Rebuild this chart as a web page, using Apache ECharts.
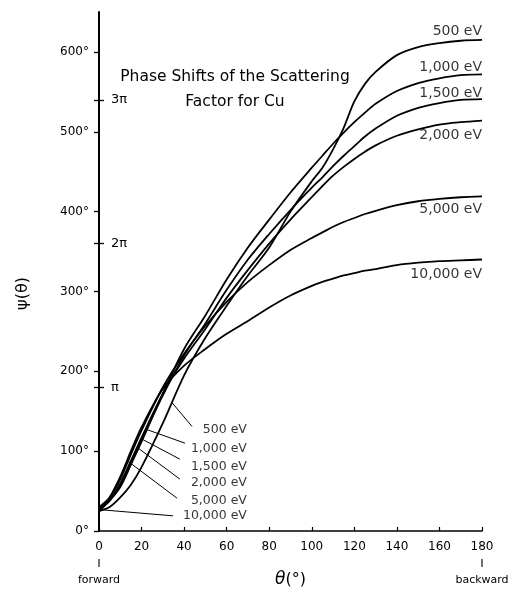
<!DOCTYPE html>
<html><head><meta charset="utf-8">
<script src="https://cdn.jsdelivr.net/npm/echarts@6/dist/echarts.min.js"></script>
<style>html,body{margin:0;padding:0;background:#fff}#c{width:513px;height:593px}</style>
</head><body><div id="c"></div>
<script>
// ---- data ----
const theta = [0,5,10,15,20,30,40,50,60,70,80,90,100,105,110,115,120,125,130,140,150,160,170,180];
const energies = ['500 eV','1,000 eV','1,500 eV','2,000 eV','5,000 eV','10,000 eV'];
const psi500   = [25,30,42,58,80,135,195,242,282,320,355,400,438,455,478,505,538,560,575,596,606,611,614,615];
const psi1000  = [25,38,55,83,112,172,228,270,315,355,390,424,455,470,485,499,512,524,535,551,561,567,571,572];
const psi1500  = [27,38,57,85,114,170,220,260,302,340,372,402,430,443,457,470,482,494,504,520,530,536,540,541];
const psi2000  = [28,39,60,88,117,172,216,253,292,327,360,390,418,432,445,456,466,475,483,495,503,509,512,514];
const psi5000  = [30,42,65,96,126,180,222,257,287,312,333,352,367,374,381,387,392,397,401,408,413,416,418,419];
const psi10000 = [25,42,68,100,130,178,207,228,247,263,280,295,307,312,316,320,323,326,328,333,336,338,339,340];
const xTickValues = [0,20,40,60,80,100,120,140,160,180];
const yTickValues = [0,100,200,300,400,500,600];
const piTickValues = [180,360,540];
const piTickLabels = ['π','2π','3π'];
const directionValues = [0,180];
const directionLabels = ['forward','backward'];
const leaderTheta = [34.3,22.5,20.2,17.9,13.6,0.5];

// ---- annotation layout ----
const leaderEnds = [[43.7,131],[40.4,110],[38,90],[38,65],[36.7,41],[34.8,19]];
const innerLabelPos = [[69.5,127],[69.5,103.5],[69.5,81],[69.5,60],[69.5,37.4],[69.5,18.7]];
const endLabelOffset = [-9,-7,-6,15,13,15];
const FONT = 'DejaVu Sans';

const psiAll = [psi500, psi1000, psi1500, psi2000, psi5000, psi10000];
function interp(p, t){
  for (let j=1;j<theta.length;j++){
    if (t<=theta[j]){const f=(t-theta[j-1])/(theta[j]-theta[j-1]);return p[j-1]+f*(p[j]-p[j-1]);}
  }
  return p[p.length-1];
}

const series = psiAll.map((p,i)=>({
  type:'line', name:energies[i], xAxisIndex:0, yAxisIndex:0,
  data: theta.map((t,j)=>[t,p[j]]),
  showSymbol:false, smooth:0.3, silent:true, animation:false,
  lineStyle:{color:'#000', width:1.8},
  markLine:{silent:true, symbol:['none','none'], animation:false, label:{show:false},
    lineStyle:{color:'#000', width:1, type:'solid'},
    data:[[{coord:[leaderTheta[i], interp(p, leaderTheta[i])]},{coord:leaderEnds[i]}]]}
}));
series.push({
  type:'scatter', xAxisIndex:0, yAxisIndex:0, silent:true, animation:false, clip:false,
  symbolSize:0,
  data: innerLabelPos.map((pos,i)=>({value:pos, name:energies[i]})),
  label:{show:true, position:'left', distance:0, formatter:'{b}', color:'#000', fontSize:12.5, fontFamily:FONT}
});
series.push({
  type:'scatter', xAxisIndex:0, yAxisIndex:0, silent:true, animation:false, clip:false,
  symbolSize:0,
  data: psiAll.map((p,i)=>({value:[theta[theta.length-1], p[p.length-1]], name:energies[i], label:{offset:[0,endLabelOffset[i]]}})),
  label:{show:true, position:'left', distance:0, formatter:'{b}', color:'#000', fontSize:14, fontFamily:FONT}
});
// small vertical marks under 0 (forward) and 180 (backward)
series.push({
  type:'scatter', xAxisIndex:0, yAxisIndex:0, silent:true, animation:false, clip:false,
  symbol:'rect', symbolSize:[1.4,8], symbolOffset:[0,32],
  itemStyle:{color:'#000'},
  data: directionValues.map(v=>[v,0])
});

const chart = echarts.init(document.getElementById('c'), null, {renderer:'canvas'});
chart.setOption({
  backgroundColor:'#fff',
  animation:false,
  title:{text:'Phase Shifts of the Scattering\nFactor for Cu', left:230, top:59, textAlign:'center',
    textStyle:{fontSize:15.5, fontWeight:'normal', lineHeight:25, color:'#000', fontFamily:FONT}},
  grid:{left:99, right:31, top:12, bottom:58, containLabel:false},
  xAxis:[
    {type:'value', min:0, max:180, interval:20, position:'bottom',
     axisLine:{lineStyle:{color:'#000', width:1.6}},
     axisTick:{inside:true, length:4, customValues:xTickValues, lineStyle:{color:'#000', width:1.2}},
     axisLabel:{customValues:xTickValues, color:'#000', fontSize:12, margin:10, fontFamily:FONT},
     splitLine:{show:false},
     name:'{i|θ}(°)', nameLocation:'middle', nameGap:40,
     nameTextStyle:{color:'#000', fontSize:16, fontFamily:FONT, rich:{i:{fontStyle:'italic', fontSize:17, fontFamily:FONT}}}},
    {type:'value', min:0, max:180, position:'bottom', offset:28,
     axisLine:{show:false},
     axisTick:{show:false},
     axisLabel:{customValues:directionValues, formatter:v=>directionLabels[directionValues.indexOf(v)], color:'#000', fontSize:11, margin:16, fontFamily:FONT},
     splitLine:{show:false}}
  ],
  yAxis:[
    {type:'value', min:0, max:650, interval:100, position:'left',
     axisLine:{show:true, lineStyle:{color:'#000', width:2}},
     axisTick:{show:true, length:5, customValues:[0,100,180,200,300,360,400,500,540,600], lineStyle:{color:'#000', width:1.3}},
     axisLabel:{customValues:yTickValues, formatter:v=>v+'°', color:'#000', fontSize:12, margin:10, fontFamily:FONT},
     splitLine:{show:false},
     name:'ψ(θ)', nameLocation:'middle', nameGap:68, nameRotate:90,
     nameTextStyle:{color:'#000', fontSize:16, fontFamily:FONT, padding:[0,44,0,0]}},
    {type:'value', min:0, max:650, position:'left', offset:0,
     axisLine:{show:false},
     axisTick:{show:true, inside:true, length:5, customValues:piTickValues, lineStyle:{color:'#000', width:1.3}},
     axisLabel:{inside:true, customValues:piTickValues, formatter:v=>piTickLabels[piTickValues.indexOf(v)], color:'#000', fontSize:13, margin:12, fontFamily:FONT},
     splitLine:{show:false}}
  ],
  series: series
});
</script></body></html>
